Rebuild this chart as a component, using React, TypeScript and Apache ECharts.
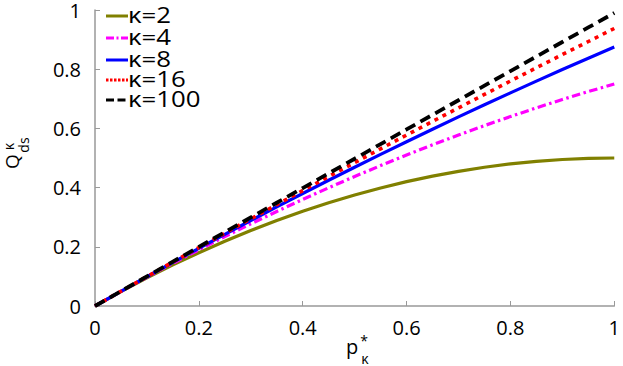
import React, { useEffect, useRef } from "react";
import * as echarts from "echarts";

const pValues = [0, 0.05, 0.1, 0.15, 0.2, 0.25, 0.3, 0.35, 0.4, 0.45, 0.5, 0.55, 0.6, 0.65, 0.7, 0.75, 0.8, 0.85, 0.9, 0.95, 1];
const q2 = [0, 0.0488, 0.095, 0.1388, 0.18, 0.2188, 0.255, 0.2888, 0.32, 0.3488, 0.375, 0.3988, 0.42, 0.4388, 0.455, 0.4688, 0.48, 0.4888, 0.495, 0.4988, 0.5];
const q4 = [0, 0.0494, 0.0975, 0.1444, 0.19, 0.2344, 0.2775, 0.3194, 0.36, 0.3994, 0.4375, 0.4744, 0.51, 0.5444, 0.5775, 0.6094, 0.64, 0.6694, 0.6975, 0.7244, 0.75];
const q8 = [0, 0.0497, 0.0988, 0.1472, 0.195, 0.2422, 0.2888, 0.3347, 0.38, 0.4247, 0.4688, 0.5122, 0.555, 0.5972, 0.6388, 0.6797, 0.72, 0.7597, 0.7988, 0.8372, 0.875];
const q16 = [0, 0.0498, 0.0994, 0.1486, 0.1975, 0.2461, 0.2944, 0.3423, 0.39, 0.4373, 0.4844, 0.5311, 0.5775, 0.6236, 0.6694, 0.7148, 0.76, 0.8048, 0.8494, 0.8936, 0.9375];
const q100 = [0, 0.05, 0.0999, 0.1498, 0.1996, 0.2494, 0.2991, 0.3488, 0.3984, 0.448, 0.4975, 0.547, 0.5964, 0.6458, 0.6951, 0.7444, 0.7936, 0.8428, 0.8919, 0.941, 0.99];

const seriesNames = ["κ=2", "κ=4", "κ=8", "κ=16", "κ=100"];
const seriesColors = ["#808000", "#ff00ff", "#0000ff", "#ff0000", "#000000"];
const seriesDashes: (string | number[])[] = ["solid", [8.5, 3.5, 2.5, 3.5], "solid", [4, 5], [11, 6]];
const seriesWidths = [3.2, 3.2, 3.2, 3.6, 3.8];
const legendDashes: (number[] | null)[] = [null, [8, 2.5, 2, 2.5], null, [2.5, 1.5], [8, 3.5]];
const seriesValues = [q2, q4, q8, q16, q100];

const FONT = "Open Sans";

export default function App() {
  const ref = useRef<HTMLDivElement>(null);
  useEffect(() => {
    if (!ref.current) return;
    const chart = echarts.init(ref.current, null, { renderer: "svg" });
    const axisColor = "#999999";

    const legendRowsY = [16, 38, 60, 80, 100];
    const legendGraphics: any[] = [];
    seriesNames.forEach((name, i) => {
      const y = legendRowsY[i];
      legendGraphics.push({
        type: "line",
        shape: { x1: 106, y1: y, x2: 128, y2: y },
        style: { stroke: seriesColors[i], lineWidth: 3, lineDash: legendDashes[i] || undefined },
        z: 10,
      });
      legendGraphics.push({
        type: "text",
        x: 128,
        y: y - 1.5,
        scaleX: 1.2,
        style: { text: name, fontSize: 21.5, lineHeight: 21, fontFamily: FONT, fill: "#000", align: "left", verticalAlign: "middle" },
        z: 10,
      });
    });

    chart.setOption({
      animation: false,
      backgroundColor: "#ffffff",
      textStyle: { fontFamily: FONT },
      grid: { left: 95, right: 6, top: 8, bottom: 60 },
      xAxis: {
        type: "value",
        min: 0,
        max: 1,
        interval: 0.2,
        axisLine: { show: true, lineStyle: { color: axisColor, width: 1.5 } },
        axisTick: { show: true, inside: true, length: 5, lineStyle: { color: axisColor } },
        splitLine: { show: false },
        axisLabel: { color: "#000", fontSize: 20, lineHeight: 20, fontFamily: FONT, margin: 11 },
      },
      yAxis: {
        type: "value",
        min: 0,
        max: 1,
        interval: 0.2,
        axisLine: { show: true, lineStyle: { color: axisColor, width: 1.5 } },
        axisTick: { show: true, inside: true, length: 5, lineStyle: { color: axisColor } },
        splitLine: { show: false },
        axisLabel: { color: "#000", fontSize: 20, lineHeight: 18, fontFamily: FONT, margin: 14 },
      },
      series: seriesNames.map((name, i) => ({
        name,
        type: "line",
        showSymbol: false,
        symbol: "none",
        smooth: false,
        data: pValues.map((p, j) => [p, seriesValues[i][j]]),
        lineStyle: { color: seriesColors[i], width: seriesWidths[i], type: seriesDashes[i] },
        itemStyle: { color: seriesColors[i] },
        z: 2 + i,
      })),
      graphic: [
        ...legendGraphics,
        { type: "text", x: 11.5, y: 161.5, rotation: Math.PI / 2, style: { text: "Q", fontSize: 19, lineHeight: 19, fontFamily: FONT, fill: "#000", align: "center", verticalAlign: "middle" } },
        { type: "text", x: 8, y: 146.5, rotation: Math.PI / 2, style: { text: "κ", fontSize: 14, lineHeight: 14, fontFamily: FONT, fill: "#000", align: "center", verticalAlign: "middle" } },
        { type: "text", x: 23, y: 145, rotation: Math.PI / 2, style: { text: "ds", fontSize: 14, lineHeight: 14, fontFamily: FONT, fill: "#000", align: "center", verticalAlign: "middle" } },
        { type: "text", x: 352, y: 346, style: { text: "p", fontSize: 20, lineHeight: 20, fontFamily: FONT, fill: "#000", align: "center", verticalAlign: "middle" } },
        { type: "text", x: 364, y: 340, style: { text: "*", fontSize: 14, lineHeight: 12, fontFamily: FONT, fill: "#000", align: "center", verticalAlign: "middle" } },
        { type: "text", x: 365, y: 358, style: { text: "κ", fontSize: 14, lineHeight: 12, fontFamily: FONT, fill: "#000", align: "center", verticalAlign: "middle" } },
      ],
    });
    return () => chart.dispose();
  }, []);
  return <div ref={ref} style={{ width: 623, height: 366, position: "absolute", left: 0, top: 0 }} />;
}
